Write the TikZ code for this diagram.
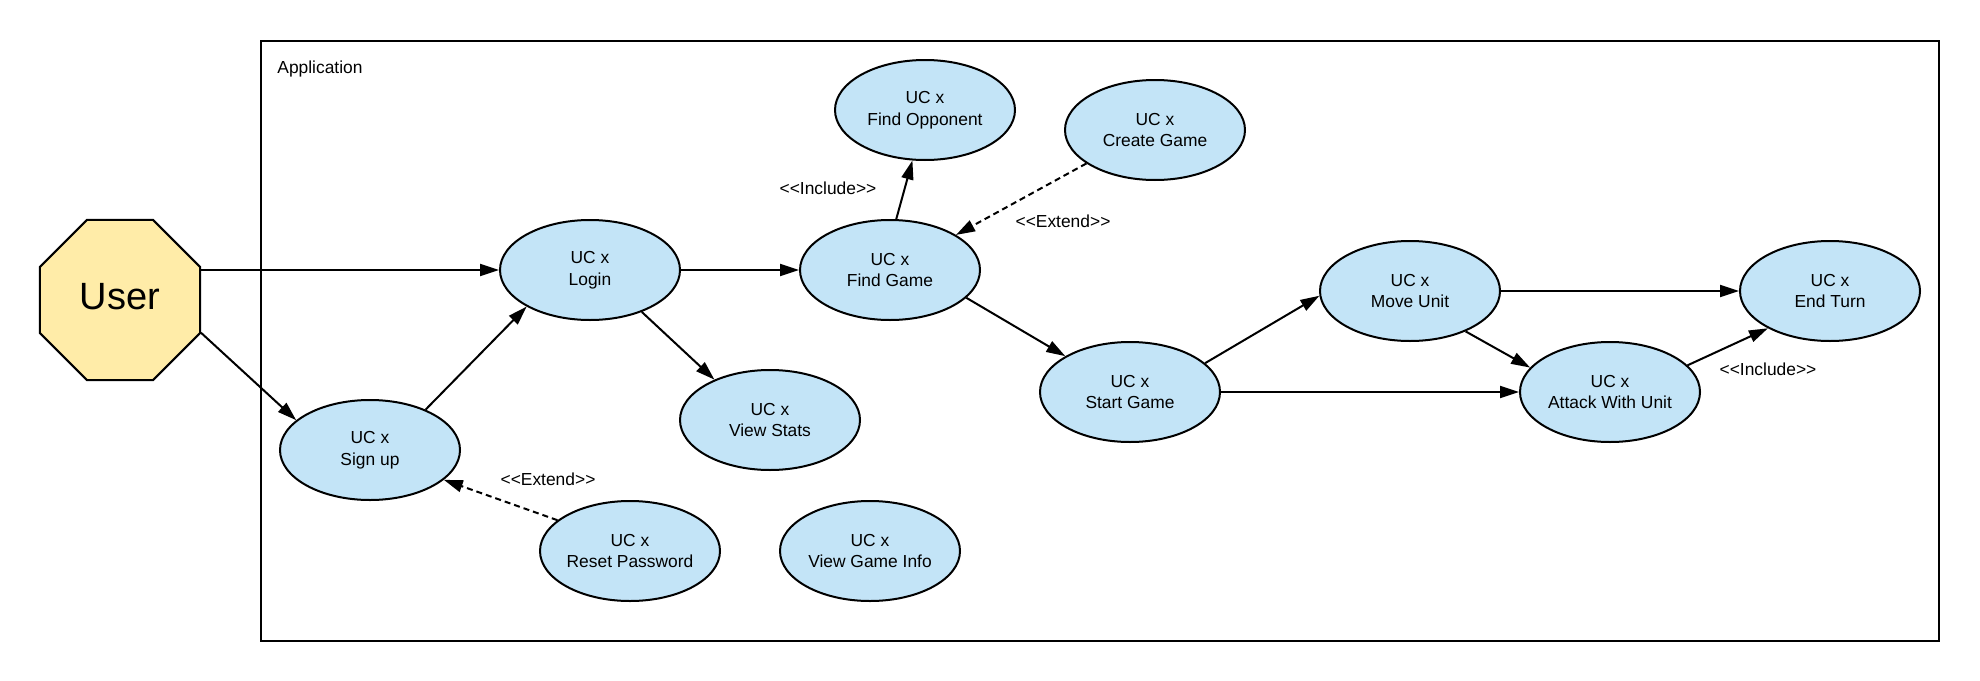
\documentclass[tikz,border=0pt]{standalone}
\usepackage{fontspec}
\setmainfont{Liberation Sans}
\usetikzlibrary{shapes.geometric,arrows.meta}
\definecolor{ucblue}{RGB}{195,228,247}
\definecolor{actoryellow}{RGB}{255,236,168}
\begin{document}
\begin{tikzpicture}[x=0.5pt,y=-0.5pt,
  uc/.style={ellipse, draw, line width=1pt, fill=ucblue, minimum width=90pt, minimum height=50pt, inner sep=0pt, align=center, font=\fontsize{8.7}{10.9}\selectfont},
  lbl/.style={font=\fontsize{8.7}{10.9}\selectfont, inner sep=0pt},
  arr/.style={line width=1pt, -{Triangle[length=9.5pt,width=6pt]}},
  ext/.style={arr, dash pattern=on 3pt off 2pt}]
\useasboundingbox (0,0) rectangle (1980,680);
\node[draw, line width=1pt, minimum width=839pt, minimum height=300pt, anchor=north west, inner sep=0pt] (app) at (260,40) {};
\node[lbl, anchor=base west] (apptitle) at (277,73) {Application};
\node[regular polygon, regular polygon sides=8, minimum size=86.6pt, inner sep=0pt, text depth=4pt, draw, line width=1pt, fill=actoryellow, font=\fontsize{19}{22}\selectfont] (user) at (120,300) {User};
\node[uc] (login) at (590,270) {UC x\\Login};
\node[uc] (findgame) at (890,270) {UC x\\Find Game};
\node[uc] (findopp) at (925,110) {UC x\\Find Opponent};
\node[uc] (creategame) at (1155,130) {UC x\\Create Game};
\node[uc] (signup) at (370,450) {UC x\\Sign up};
\node[uc] (viewstats) at (770,420) {UC x\\View Stats};
\node[uc] (reset) at (630,551) {UC x\\Reset Password};
\node[uc] (viewinfo) at (870,551) {UC x\\View Game Info};
\node[uc] (startgame) at (1130,392) {UC x\\Start Game};
\node[uc] (moveunit) at (1410,291) {UC x\\Move Unit};
\node[uc] (attack) at (1610,392) {UC x\\Attack With Unit};
\node[uc] (endturn) at (1830,291) {UC x\\End Turn};
\node[lbl] (inc1) at (828,188) {<{}<Include>{}>};
\node[lbl] (ext1) at (1063,221) {<{}<Extend>{}>};
\node[lbl] (inc2) at (1768,369) {<{}<Include>{}>};
\node[lbl] (ext2) at (548,479) {<{}<Extend>{}>};
\draw[arr] (login.west -| user.east) -- (login.west);
\draw[arr] (user.-22.5) -- (signup.158.7);
\draw[arr] (signup.36) -- (login.-150);
\draw[arr] (login) -- (findgame);
\draw[arr] (login.-39) -- (viewstats.144);
\draw[arr] (findgame.83) -- (findopp.-104);
\draw[ext] (creategame.-154) -- (findgame.28);
\draw[arr] (findgame.-20) -- (startgame.151);
\draw[arr] (startgame.21) -- (moveunit.183);
\draw[arr] (startgame) -- (attack);
\draw[arr] (moveunit) -- (endturn);
\draw[arr] (moveunit.-36) -- (attack.163);
\draw[arr] (attack.19) -- (endturn.211);
\draw[ext] (reset.157) -- (signup.-22);
\end{tikzpicture}
\end{document}
